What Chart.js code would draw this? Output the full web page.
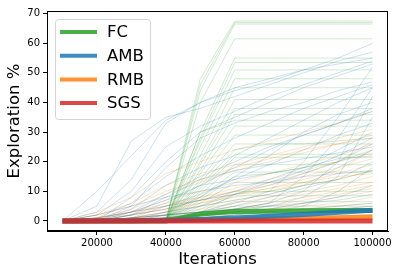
<!DOCTYPE html>
<html>
<head>
<meta charset="utf-8">
<script src="https://cdn.jsdelivr.net/npm/chart.js@4.4.1/dist/chart.umd.min.js"></script>
<style>
  html, body { margin: 0; padding: 0; background: #fff; }
</style>
</head>
<body>
<canvas id="myChart" width="399" height="276"></canvas>
<script>
const iterations = [10000, 20000, 30000, 40000, 50000, 60000, 70000, 80000, 90000, 100000]
const xTicks = [20000, 40000, 60000, 80000, 100000]
const yTicks = [0, 10, 20, 30, 40, 50, 60, 70]
const legendNames = ["FC", "AMB", "RMB", "SGS"]

// single runs, values in % at each iteration step
const fcRuns = [
  [0, 0, 0, 0, 48, 67.5, 67.5, 67.5, 67.5, 67.5],
  [0, 0, 0, 0, 46, 67, 67, 67, 67, 67],
  [0, 0, 0, 0, 44, 66.5, 66.5, 66.5, 66.5, 66.5],
  [0, 0, 0, 0, 40, 61.5, 61.5, 61.5, 61.5, 61.5],
  [0, 0, 0, 0, 30, 55, 55, 55, 55, 55],
  [0, 0, 0, 0, 28, 53.5, 53.5, 53.5, 53.5, 53.5],
  [0, 0, 0, 0, 27, 51, 51, 51, 51, 51],
  [0, 0, 0, 0, 25, 48, 48, 48, 48, 48],
  [0, 0, 0, 0, 22, 45, 45, 45, 45, 45],
  [0, 0, 0, 0, 20, 41, 41, 41, 41, 41],
  [0, 0, 0, 0, 19, 38, 38, 38, 38, 38],
  [0, 0, 0, 0, 17, 36, 36, 36, 36, 36],
  [0, 0, 0, 0, 30, 34, 34, 34, 34, 34],
  [0, 0, 0, 0, 16, 32, 32, 32, 32, 32],
  [0, 0, 0, 0, 14, 29, 29, 29, 29, 29],
  [0, 0, 0, 0, 13, 26, 26, 26, 26, 26],
  [0, 0, 0, 0, 12, 24, 26, 26, 27, 28],
  [0, 0, 0, 0, 11, 22.5, 22.5, 22.5, 22.5, 22.5],
  [0, 0, 0, 0, 10, 21.5, 21.5, 21.5, 21.5, 21.5],
  [0, 0, 0, 0, 9, 19, 19, 19, 19, 19],
  [0, 0, 0, 0, 8, 16.5, 16.5, 16.5, 16.5, 16.5],
  [0, 0, 0, 0, 7, 15, 16, 18, 20, 24],
  [0, 0, 0, 0, 6, 13, 13, 13, 13, 13],
  [0, 0, 0, 0, 5, 10, 10, 10, 10, 10],
  [0, 0, 0, 0, 3, 9, 10, 12, 14, 17],
  [0, 0, 0, 0, 4, 8.5, 8.5, 8.5, 8.5, 8.5],
  [0, 0, 0, 0, 3, 6.5, 6.5, 6.5, 6.5, 6.5],
  [0, 0, 0, 0, 2.5, 5, 5, 5, 5, 5],
  [0, 0, 0, 0, 2, 4, 4, 4, 4, 4],
  [0, 0, 0, 0, 1.5, 3, 3, 3, 3, 3],
  [0, 0, 0, 0, 1, 2, 2, 2, 2, 2],
]
const ambRuns = [
  [0, 10, 22, 34, 40, 44, 47, 51, 55, 60],
  [0, 5, 27, 35, 38, 42, 46, 50, 54, 57],
  [0, 3, 14, 33, 40, 45, 48, 51, 53, 55],
  [0, 2, 10, 25, 32, 37, 42, 46, 50, 54],
  [0, 0, 8, 20, 30, 35, 40, 45, 49, 53],
  [0, 0, 5, 18, 28, 33, 37, 40, 44, 47],
  [0, 1, 6, 15, 22, 28, 33, 38, 42, 46],
  [0, 0, 4, 12, 18, 22, 28, 34, 40, 45],
  [0, 0, 3, 9, 15, 20, 25, 29, 33, 38],
  [0, 0, 2, 6, 12, 18, 24, 29, 33, 37],
  [0, 0, 0, 3, 8, 15, 22, 30, 36, 40],
  [0, 0, 1, 5, 9, 14, 19, 24, 29, 33],
  [0, 0, 2, 4, 7, 10, 14, 18, 24, 30],
  [0, 1, 3, 5, 7, 9, 12, 16, 20, 26],
  [0, 0, 2, 8, 14, 17, 19, 21, 23, 25],
  [0, 0, 1, 3, 5, 7, 9, 12, 18, 24],
  [0, 0, 0, 2, 3, 5, 8, 11, 14, 20],
  [0, 0, 1, 2, 3, 4, 6, 10, 20, 42],
  [0, 0, 0, 1, 3, 6, 10, 20, 35, 52],
  [0, 0, 0, 1, 2, 3, 5, 8, 15, 35],
  [0, 0, 0, 1, 1, 2, 3, 5, 10, 18],
  [0, 0, 0, 0, 1, 2, 4, 6, 8, 12],
  [0, 0, 1, 2, 3, 4, 5, 6, 7, 9],
  [0, 0, 0, 1, 2, 3, 3, 4, 5, 6],
  [0, 0, 0, 0, 0, 1, 2, 3, 4, 5],
  [0, 2, 5, 8, 10, 12, 13, 15, 16, 17],
  [0, 0, 3, 7, 12, 14, 16, 18, 21, 22],
  [0, 0, 0, 2, 5, 9, 13, 17, 22, 28],
  [0, 0, 0, 0, 2, 4, 6, 15, 28, 45],
]
const rmbRuns = [
  [0, 3, 8, 16, 20, 24, 27, 30, 33, 37],
  [0, 2, 6, 12, 16, 19, 22, 25, 28, 31],
  [0, 1, 4, 9, 13, 17, 20, 23, 26, 29],
  [0, 1, 2, 4, 7, 10, 13, 16, 20, 27],
  [0, 1, 3, 7, 10, 13, 16, 19, 22, 26],
  [0, 0, 2, 5, 8, 11, 14, 17, 20, 23],
  [0, 1, 3, 6, 8, 10, 12, 15, 18, 21],
  [0, 0, 2, 4, 6, 8, 10, 13, 16, 19],
  [0, 0, 1, 3, 5, 7, 9, 12, 14, 17],
  [0, 0, 1, 3, 6, 9, 11, 13, 15, 16],
  [0, 0, 1, 2, 4, 6, 8, 10, 12, 15],
  [0, 0, 1, 2, 3, 5, 7, 9, 11, 13],
  [0, 0, 0, 1, 2, 4, 6, 8, 10, 12],
  [0, 0, 0, 1, 2, 3, 4, 6, 8, 10],
  [0, 0, 1, 1, 2, 3, 4, 5, 6, 8],
  [0, 0, 0, 1, 1, 2, 3, 4, 5, 6],
  [0, 0, 0, 0, 1, 1, 2, 3, 4, 5],
  [0, 2, 5, 10, 14, 18, 21, 24, 26, 28],
  [0, 1, 3, 5, 7, 9, 11, 14, 17, 24],
  [0, 0, 1, 2, 3, 4, 5, 7, 9, 11],
]

// averages (thick lines)
const fcMean = [0, 0, 0, 0, 2.3, 3.2, 3.3, 3.4, 3.5, 3.5]
const ambMean = [0, 0.05, 0.1, 0.2, 0.5, 1.0, 1.6, 2.2, 2.9, 3.6]
const rmbMean = [0, 0.05, 0.1, 0.2, 0.4, 0.5, 0.7, 0.9, 1.1, 1.3]
const sgsMean = [0, 0, 0, 0, 0, 0, 0, 0, 0, 0]

const colors = {
  FC: "44, 160, 44",
  AMB: "31, 119, 180",
  RMB: "255, 127, 14",
  SGS: "214, 39, 40",
}

function toPoints(values) {
  return iterations.map((x, i) => ({ x: x, y: values[i] }))
}

function meanSet(name, values) {
  return {
    label: name,
    data: toPoints(values),
    borderColor: "rgba(" + colors[name] + ", 0.85)",
    borderWidth: 5,
  }
}

function runSets(name, runs) {
  return runs.map(r => ({
    label: name + " run",
    data: toPoints(r),
    borderColor: "rgba(" + colors[name] + ", 0.22)",
    borderWidth: 1,
  }))
}

// first dataset ends up on top
const datasets = [
  meanSet("SGS", sgsMean),
  meanSet("AMB", ambMean),
  meanSet("RMB", rmbMean),
  meanSet("FC", fcMean),
  ...runSets("FC", fcRuns),
  ...runSets("AMB", ambRuns),
  ...runSets("RMB", rmbRuns),
]

const frameAndLegend = {
  id: "frameAndLegend",
  afterDatasetsDraw(chart) {
    const ctx = chart.ctx
    const a = chart.chartArea
    ctx.save()
    // legend box
    const bx = 55.5, by = 19.5, bw = 95, bh = 100, r = 3
    ctx.beginPath()
    ctx.moveTo(bx + r, by)
    ctx.arcTo(bx + bw, by, bx + bw, by + bh, r)
    ctx.arcTo(bx + bw, by + bh, bx, by + bh, r)
    ctx.arcTo(bx, by + bh, bx, by, r)
    ctx.arcTo(bx, by, bx + bw, by, r)
    ctx.closePath()
    ctx.fillStyle = "rgba(255,255,255,0.8)"
    ctx.fill()
    ctx.strokeStyle = "#d5d5d5"
    ctx.lineWidth = 1
    ctx.stroke()
    ctx.font = "16.5px 'DejaVu Sans'"
    ctx.textBaseline = "middle"
    ctx.fillStyle = "#000"
    legendNames.forEach((name, i) => {
      const y = 32 + i * 23.7
      ctx.beginPath()
      ctx.moveTo(60, y)
      ctx.lineTo(97, y)
      ctx.strokeStyle = "rgba(" + colors[name] + ", 0.85)"
      ctx.lineWidth = 4
      ctx.stroke()
      ctx.fillText(name, 107, y + 1)
    })
    // full frame
    ctx.strokeStyle = "#000"
    ctx.lineWidth = 1
    ctx.strokeRect(Math.round(a.left) + 0.5, Math.round(a.top) + 0.5,
      Math.round(a.right - a.left) - 1, Math.round(a.bottom - a.top) - 1)
    ctx.restore()
  },
}

const tickFont = { family: "'DejaVu Sans'", size: 10 }
const titleFont = { family: "'DejaVu Sans'", size: 16.5 }

const config = {
  type: "line",
  data: { datasets: datasets },
  options: {
    responsive: false,
    animation: false,
    devicePixelRatio: 1,
    layout: { padding: { top: 11, right: 11, left: 0, bottom: 0 } },
    elements: { point: { radius: 0 }, line: { tension: 0 } },
    plugins: {
      legend: { display: false },
      tooltip: { enabled: false },
    },
    scales: {
      x: {
        type: "linear",
        min: 5500,
        max: 104500,
        afterBuildTicks: s => { s.ticks = xTicks.map(v => ({ value: v })) },
        afterFit: s => { s.height = 45 },
        ticks: { font: tickFont, color: "#000", padding: 2, maxRotation: 0, callback: v => String(v) },
        grid: { display: true, drawOnChartArea: false, drawTicks: true, tickLength: 4, color: "#000" },
        border: { display: true, color: "#000" },
        title: { display: true, text: "Iterations", font: titleFont, color: "#000", padding: { bottom: 6 } },
      },
      y: {
        min: -3.4,
        max: 70.9,
        afterBuildTicks: s => { s.ticks = yTicks.map(v => ({ value: v })) },
        afterFit: s => { s.width = 47 },
        ticks: { font: tickFont, color: "#000", padding: 3 },
        grid: { display: true, drawOnChartArea: false, drawTicks: true, tickLength: 4, color: "#000" },
        border: { display: true, color: "#000" },
        title: { display: true, text: "Exploration %", font: titleFont, color: "#000", padding: { top: 5 } },
      },
    },
  },
  plugins: [frameAndLegend],
}

const MyChart = new Chart(document.getElementById("myChart"), config)
</script>
</body>
</html>
